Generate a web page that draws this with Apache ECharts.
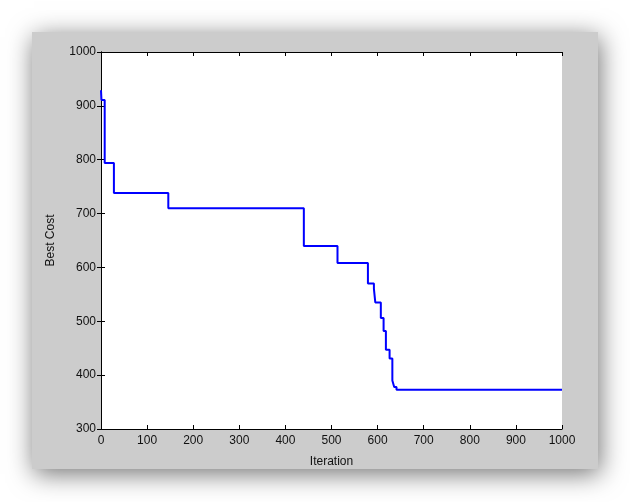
<!DOCTYPE html>
<html>
<head>
<meta charset="utf-8">
<script src="https://cdn.jsdelivr.net/npm/echarts@6/dist/echarts.min.js"></script>
<style>
html,body{margin:0;padding:0;background:#ffffff;}
#c{width:630px;height:502px;}
</style>
</head>
<body>
<div id="c"></div>
<script>
var iterations = [0, 1, 8, 28, 146, 440, 513, 579, 592, 595, 607, 613, 618, 626, 632, 636, 641, 1000];
var bestCost   = [929, 911, 794, 738, 710, 640, 608, 570, 560, 535, 506, 482, 447, 431, 390, 378, 373, 373];
var xTicks = [0, 100, 200, 300, 400, 500, 600, 700, 800, 900, 1000];
var yTicks = [300, 400, 500, 600, 700, 800, 900, 1000];

var data = iterations.map(function (x, i) { return [x, bestCost[i]]; });
var font = 'Arial, "Liberation Sans", sans-serif';
var chart = echarts.init(document.getElementById('c'), null, {renderer: 'canvas'});
var axisCommon = {
  axisLine: {show: true, lineStyle: {color: '#000', width: 1}},
  axisTick: {show: true, inside: true, length: 4, lineStyle: {color: '#000', width: 1}},
  splitLine: {show: false}
};
chart.setOption({
  animation: false,
  backgroundColor: '#ffffff',
  graphic: [{
    type: 'rect', z: -10, silent: true,
    shape: {x: 32, y: 32, width: 566, height: 437},
    style: {fill: '#cccccc', shadowBlur: 24, shadowOffsetX: 2, shadowOffsetY: 5, shadowColor: 'rgba(0,0,0,0.55)'}
  }],
  grid: {left: 101, top: 52, width: 461, height: 377, show: true, backgroundColor: '#ffffff', borderWidth: 0},
  xAxis: [
    Object.assign({
      type: 'value', min: 0, max: 1000, interval: 100, position: 'bottom',
      name: 'Iteration', nameLocation: 'middle', nameGap: 27,
      nameTextStyle: {fontFamily: font, fontSize: 12, color: '#111'},
      axisLabel: {fontFamily: font, fontSize: 12, color: '#111', margin: 6,
        formatter: function (v) { return xTicks.indexOf(v) >= 0 ? String(v) : ''; }}
    }, axisCommon),
    Object.assign({
      type: 'value', min: 0, max: 1000, interval: 100, position: 'top',
      axisLabel: {show: false}
    }, axisCommon)
  ],
  yAxis: [
    Object.assign({
      type: 'value', min: 300, max: 1000, interval: 100, position: 'left',
      name: 'Best Cost', nameLocation: 'middle', nameGap: 44, nameRotate: 90,
      nameTextStyle: {fontFamily: font, fontSize: 12, color: '#111'},
      axisLabel: {fontFamily: font, fontSize: 12, color: '#111', margin: 5,
        formatter: function (v) { return yTicks.indexOf(v) >= 0 ? String(v) : ''; }}
    }, axisCommon),
    Object.assign({
      type: 'value', min: 300, max: 1000, interval: 100, position: 'right',
      axisLabel: {show: false}
    }, axisCommon)
  ],
  series: [{
    type: 'line',
    data: data,
    step: 'end',
    showSymbol: false,
    symbol: 'none',
    lineStyle: {color: '#0000ff', width: 2},
    clip: true
  }]
});
</script>
</body>
</html>
